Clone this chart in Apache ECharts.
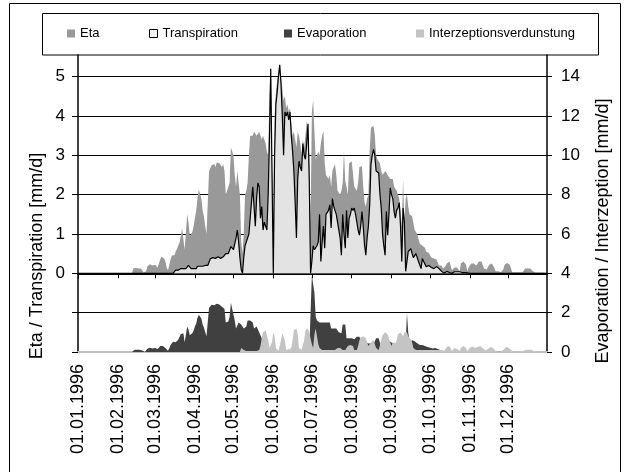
<!DOCTYPE html>
<html>
<head>
<meta charset="utf-8">
<script src="https://cdn.jsdelivr.net/npm/echarts@6/dist/echarts.min.js"></script>
<style>
  html, body { margin: 0; padding: 0; background: #fff; }
  #main { width: 629px; height: 472px; }
</style>
</head>
<body>
<div id="main"></div>
<script>
// Tageswerte 1996 (366 Tage)
var monthStarts = [0, 31, 60, 91, 121, 152, 182, 213, 244, 274, 305, 335];
var leftTicks = [0, 1, 2, 3, 4, 5];
var rightTicks = [0, 2, 4, 6, 8, 10, 12, 14];

var eta = [
    // Jan
    0,0,0,0,0,0,0,0,0,0,0,0,0,0,0,0,0,0,0,0,0,0,0,0,0,0,0,0,0,0,0,
    // Feb
    0,0,0,0,0,0,0,0,0,0,0,0,0.12,0.13,0.14,0.13,0.12,0.13,0.12,0.1,0.02,0,0.05,0.18,0.22,0.23,0.21,0.2,0.24,
    // Mar
    0.22,0.18,0.15,0.25,0.35,0.42,0.46,0.38,0.3,0.15,0.08,0.2,0.35,0.45,0.5,0.46,0.55,0.62,0.7,0.78,0.95,1.15,1.1,0.6,0.55,1.5,1.3,0.95,0.9,1.05,1.2,
    // Apr
    1.4,1.6,1.9,2.13,2.1,1.9,1.6,1.45,1.2,1.0,0.97,2.6,2.65,2.75,2.8,2.78,2.7,2.82,2.85,2.8,2.75,2.7,2.78,2.6,2.0,2.1,2.05,2.3,3.2,3.22,
    // May
    3.0,2.5,2.2,2.6,2.65,2.0,0.8,0.5,1.0,2.0,2.1,2.3,3.0,3.5,3.55,3.5,3.6,3.65,3.5,3.55,3.6,3.5,3.4,3.5,3.4,3.3,3.1,3.0,4.5,5.25,3.0,
    // Jun
    1.2,4.0,4.6,4.9,5.1,5.3,5.0,4.7,4.4,4.5,4.2,4.3,4.1,4.2,3.8,3.5,3.6,3.4,3.2,3.6,3.5,3.3,3.0,3.4,3.2,3.5,3.9,3.9,3.0,1.3,
    // Jul
    4.1,4.4,3.6,2.9,3.0,3.1,3.0,3.3,3.5,3.62,2.8,2.5,2.45,2.4,2.5,2.2,2.6,2.7,2.77,2.5,2.1,2.05,2.0,2.1,2.3,3.1,2.35,2.2,2.0,2.8,2.85,
    // Aug
    2.85,2.8,2.2,2.15,2.1,2.3,2.7,2.75,2.72,2.2,1.8,1.7,1.9,2.0,3.1,3.7,3.75,3.75,3.5,3.0,2.9,2.85,2.8,2.6,2.5,2.55,2.6,2.64,2.5,2.45,2.4,
    // Sep
    2.35,2.4,2.2,2.15,2.1,2.0,1.9,1.6,1.2,2.4,1.3,1.9,2.0,1.7,1.5,1.5,1.45,1.4,1.1,1.05,1.0,1.0,0.75,0.7,0.7,0.68,0.65,0.55,0.55,0.52,
    // Oct
    0.5,0.4,0.38,0.38,0.36,0.35,0.3,0.2,0.2,0.2,0.12,0.08,0.18,0.25,0.3,0.3,0.2,0.08,0.05,0.15,0.18,0.15,0.12,0.05,0.25,0.3,0.3,0.3,0.22,0.05,0.15,
    // Nov
    0.2,0.25,0.28,0.25,0.25,0.2,0.25,0.3,0.32,0.3,0.25,0.12,0.1,0.1,0.15,0.22,0.25,0.25,0.22,0.15,0.05,0.05,0.05,0.05,0.03,0.05,0.1,0.22,0.26,0.26,
    // Dec
    0.25,0.22,0.12,0.03,0.03,0.03,0.03,0.03,0.03,0.03,0.03,0.03,0.08,0.12,0.12,0.12,0.12,0.12,0.08,0.05,0.02,0.02,0.02,0.02,0.02,0.02,0.02,0.02,0.02,0.02,0.02
];

var transpiration = [
    // Jan
    0,0,0,0,0,0,0,0,0,0,0,0,0,0,0,0,0,0,0,0,0,0,0,0,0,0,0,0,0,0,0,
    // Feb
    0,0,0,0,0,0,0,0,0,0,0,0,0,0,0,0,0,0,0,0,0,0,0,0,0,0,0,0,0,
    // Mar
    0,0,0,0,0,0,0,0,0,0,0,0,0,0,0,0.05,0.08,0.08,0.08,0.1,0.12,0.12,0.12,0.12,0.12,0.12,0.2,0.2,0.12,0.12,0.12,
    // Apr
    0.12,0.12,0.18,0.18,0.18,0.18,0.18,0.15,0.2,0.2,0.2,0.22,0.37,0.38,0.4,0.4,0.38,0.4,0.42,0.4,0.38,0.4,0.42,0.38,0.5,0.48,0.5,0.55,0.68,0.67,
    // May
    0.6,0.55,0.9,1.1,0.8,0.4,0.1,0.0,0.4,0.7,0.8,0.75,1.0,1.4,1.8,2.2,1.7,1.2,1.9,2.3,2.2,1.4,1.7,1.1,1.3,1.2,1.1,2.0,3.4,5.2,2.5,
    // Jun
    0.0,3.0,4.3,4.6,5.0,5.3,4.8,4.0,3.0,4.1,4.0,4.1,3.9,4.1,3.5,3.1,2.6,1.8,0.9,2.4,2.85,2.7,2.6,3.3,3.0,2.9,3.3,3.8,2.3,0.0,
    // Jul
    0.3,0.7,0.6,0.65,0.7,0.8,1.5,0.3,0.8,1.2,0.64,1.5,1.55,1.6,1.74,1.15,1.9,1.7,1.6,1.5,1.3,1.1,0.9,0.46,1.5,1.0,0.64,1.6,0.9,1.4,1.5,
    // Aug
    1.66,1.6,1.66,1.5,1.3,1.1,0.97,1.2,1.57,1.2,0.72,0.46,0.9,1.2,1.74,2.77,3.0,3.15,3.0,2.6,2.6,2.55,2.0,1.66,1.0,0.7,0.46,1.57,0.97,1.5,2.17,
    // Sep
    2.0,1.9,1.57,1.4,1.6,1.66,1.8,1.2,0.3,1.66,1.3,0.05,0.1,0.55,0.5,0.63,0.5,0.4,0.38,0.5,0.5,0.3,0.25,0.12,0.38,0.3,0.25,0.17,0.2,0.2,
    // Oct
    0.22,0.15,0.12,0.12,0.15,0.17,0.12,0.12,0.1,0.05,0.02,0,0,0.05,0.03,0.02,0.05,0,0,0.04,0.02,0.04,0.02,0.04,0.04,0.02,0.01,0.02,0,0.01,0,
    // Nov
    0,0,0,0,0,0,0,0,0,0,0,0,0,0,0,0,0,0,0,0,0,0,0,0,0,0,0,0,0,0,
    // Dec
    0,0,0,0,0,0,0,0,0,0,0,0,0,0,0,0,0,0,0,0,0,0,0,0,0,0,0,0,0,0,0
];

var evaporation = [
    // Jan
    0,0,0,0,0,0,0,0,0,0,0,0,0,0,0,0,0,0,0,0,0,0,0,0,0,0,0,0,0,0,0,
    // Feb
    0,0,0,0,0,0,0,0,0,0,0,0,0.1,0.11,0.12,0.11,0.1,0.11,0.1,0.08,0.02,0,0.04,0.16,0.2,0.21,0.19,0.18,0.22,
    // Mar
    0.2,0.16,0.15,0.25,0.3,0.26,0.3,0.25,0.2,0.12,0.06,0.18,0.35,0.45,0.52,0.5,0.5,0.55,0.62,0.68,0.9,1.0,0.95,0.5,0.5,1.3,1.15,0.85,0.8,0.95,1.1,
    // Apr
    1.3,1.45,1.74,1.9,1.9,1.7,1.4,1.25,1.0,0.8,0.78,2.25,2.3,2.4,2.4,2.38,2.3,2.45,2.48,2.42,2.35,2.3,2.4,2.2,1.5,1.6,1.55,1.8,2.5,2.5,
    // May
    1.9,1.6,1.2,1.3,1.5,1.5,1.4,1.3,1.2,1.2,1.3,1.6,1.65,1.6,1.55,1.5,1.2,1.1,1.3,1.2,1.0,0.9,0.7,0.5,0.4,0.35,0.3,0.25,0.15,0.05,0.1,
    // Jun
    0.2,0.15,0.1,0.08,0.05,0.05,0.1,0.15,0.2,0.15,0.1,0.17,0.12,0.1,0.1,0.15,0.2,0.2,0.25,0.2,0.15,0.1,0.1,0.15,0.2,0.25,0.2,0.15,0.1,0.1,
    // Jul
    3.9,4.0,3.0,1.8,1.6,1.55,1.5,1.55,1.5,1.6,1.5,1.55,1.5,1.45,1.5,1.2,1.25,1.2,1.15,1.2,1.2,1.0,0.95,0.95,1.4,1.45,1.4,0.7,0.75,0.7,0.7,
    // Aug
    0.7,0.7,0.65,0.6,0.78,0.8,0.78,0.6,0.52,0.52,0.5,0.5,0.45,0.43,0.43,0.45,0.43,0.4,0.43,0.7,0.7,0.7,0.68,0.26,0.26,0.26,0.26,0.35,0.52,0.52,0.52,
    // Sep
    0.5,0.45,0.35,0.35,0.35,0.35,0.3,0.25,0.2,0.3,0.3,0.4,2.0,1.0,0.5,0.55,0.6,0.6,0.55,0.5,0.45,0.4,0.35,0.35,0.35,0.3,0.3,0.28,0.26,0.25,
    // Oct
    0.22,0.2,0.18,0.17,0.2,0.18,0.15,0.12,0.1,0.05,0.03,0.03,0.03,0.03,0.03,0.03,0.03,0.03,0.03,0.03,0.03,0.03,0.03,0.03,0.03,0.03,0.03,0.03,0.03,0.03,0.03,
    // Nov
    0.02,0.02,0.02,0.02,0.02,0.02,0.02,0.02,0.02,0.02,0.02,0.02,0.02,0.02,0.02,0.02,0.02,0.02,0.02,0.02,0.02,0.02,0.02,0.02,0.02,0.02,0.02,0.02,0.02,0.02,
    // Dec
    0,0,0,0,0,0,0,0,0,0,0,0,0,0,0,0,0,0,0,0,0,0,0,0,0,0,0,0,0,0,0
];

var interzeption = [
    // Jan
    0,0,0,0,0,0,0,0,0,0,0,0,0,0,0,0,0,0,0,0,0,0,0,0,0,0,0,0,0,0,0,
    // Feb
    0,0,0,0,0,0,0,0,0,0,0,0,0,0,0,0,0,0,0,0,0,0,0,0,0,0,0,0,0,
    // Mar
    0,0,0,0,0,0,0,0,0,0,0,0,0,0,0,0,0,0,0,0,0,0,0,0,0,0,0,0,0,0,0,
    // Apr
    0,0,0,0,0,0,0,0,0,0,0,0,0,0,0,0,0,0,0,0,0,0,0,0,0,0,0,0,0,0,
    // May
    0,0,0,0,0,0,0.2,0.3,0.1,0.05,0.05,0.05,0.05,0.05,0.05,0.05,0.05,0.05,0.05,0.05,0.1,0.3,0.7,1.0,1.1,1.1,1.0,0.6,0.2,0.1,0.5,
    // Jun
    1.0,0.8,0.2,0.1,0.05,0.05,0.6,0.95,0.9,0.6,0.1,0.05,0.1,0.1,0.2,0.6,1.1,1.2,1.2,0.9,0.2,0.1,0.1,0.2,0.6,1.1,1.2,1.2,1.0,1.1,
    // Jul
    0.4,0.2,0.9,1.2,1.1,0.4,0.2,0.1,0.1,0.1,0.1,0.1,0.1,0.1,0.1,0.1,0.1,0.1,0.1,0.1,0.2,0.25,0.2,0.1,0.1,0.1,0.1,0.1,0.3,0.35,0.35,
    // Aug
    0.35,0.3,0.1,0.1,0.1,0.3,0.6,0.75,0.8,0.8,0.75,0.7,0.6,0.3,0.2,0.5,0.6,0.6,0.55,0.2,0.1,0.1,0.1,0.6,0.85,0.95,1.0,1.0,0.9,0.8,0.5,
    // Sep
    0.3,0.5,0.5,0.45,0.6,0.9,1.0,1.0,0.9,0.8,1.0,1.1,1.0,0.8,0.7,0.65,0.5,0.2,0.1,0.1,0.1,0.1,0.1,0.1,0.1,0.1,0.1,0.1,0.1,0.1,
    // Oct
    0.1,0.1,0.1,0.1,0.1,0.1,0.1,0.1,0.1,0.1,0.05,0.05,0.15,0.25,0.3,0.3,0.2,0.05,0.1,0.2,0.25,0.15,0.1,0.05,0.2,0.3,0.3,0.28,0.2,0.05,0.15,
    // Nov
    0.22,0.28,0.28,0.25,0.2,0.22,0.25,0.3,0.3,0.28,0.2,0.1,0.08,0.1,0.15,0.2,0.25,0.22,0.2,0.12,0.05,0.04,0.04,0.04,0.04,0.04,0.1,0.2,0.25,0.25,
    // Dec
    0.22,0.2,0.1,0.03,0.03,0.03,0.03,0.03,0.03,0.03,0.03,0.03,0.08,0.12,0.12,0.12,0.12,0.12,0.12,0.08,0.02,0.02,0.02,0.02,0.02,0.02,0.02,0.02,0.02,0.02,0.02
];

// Datumsachse 01.01.1996 - 31.12.1996
var days = [];
for (var i = 0; i < 366; i++) {
    var d = new Date(Date.UTC(1996, 0, 1 + i));
    var dd = ('0' + d.getUTCDate()).slice(-2);
    var mm = ('0' + (d.getUTCMonth() + 1)).slice(-2);
    days.push(dd + '.' + mm + '.' + d.getUTCFullYear());
}

var FONT = 'Liberation Sans, Arial, sans-serif';
var isMonthStart = function (index) { return monthStarts.indexOf(index) >= 0; };

var myChart = echarts.init(document.getElementById('main'));
var option = {
    animation: false,
    backgroundColor: '#fff',
    textStyle: { fontFamily: FONT },
    grid: [
        { left: 78, top: 55, width: 469, height: 297 },
        { left: 78, top: 55, width: 469, height: 297 }
    ],
    legend: [
        { left: 67, top: 27, padding: 0, itemWidth: 8, itemHeight: 8, selectedMode: false,
          textStyle: { fontSize: 13, color: '#000', fontFamily: FONT },
          data: [{ name: 'Eta', icon: 'rect', itemStyle: { color: '#999999' } }] },
        { left: 149, top: 27, padding: 0, itemWidth: 8, itemHeight: 8, selectedMode: false,
          textStyle: { fontSize: 13, color: '#000', fontFamily: FONT },
          data: [{ name: 'Transpiration', icon: 'rect', itemStyle: { color: '#f2f2f2', borderColor: '#000', borderWidth: 1 } }] },
        { left: 284, top: 27, padding: 0, itemWidth: 8, itemHeight: 8, selectedMode: false,
          textStyle: { fontSize: 13, color: '#000', fontFamily: FONT },
          data: [{ name: 'Evaporation', icon: 'rect', itemStyle: { color: '#404040' } }] },
        { left: 416, top: 27, padding: 0, itemWidth: 8, itemHeight: 8, selectedMode: false,
          textStyle: { fontSize: 13, color: '#000', fontFamily: FONT },
          data: [{ name: 'Interzeptionsverdunstung', icon: 'rect', itemStyle: { color: '#c4c4c4' } }] }
    ],
    xAxis: [
        {
            gridIndex: 0, type: 'category', data: days, boundaryGap: false,
            axisLine: { onZero: true, lineStyle: { color: '#000', width: 2 } },
            axisTick: { show: true, interval: isMonthStart, length: 5, lineStyle: { color: '#000' } },
            axisLabel: { show: false },
            splitLine: { show: false }
        },
        {
            gridIndex: 1, type: 'category', data: days, boundaryGap: false, position: 'bottom',
            axisLine: { onZero: false, lineStyle: { color: '#c0c0c0', width: 2 } },
            axisTick: { show: false },
            axisLabel: { interval: isMonthStart, rotate: 90, fontSize: 18, color: '#000', margin: 12, fontFamily: FONT },
            splitLine: { show: false }
        }
    ],
    yAxis: [
        {
            gridIndex: 0, type: 'value', position: 'left', min: -2, max: 5.55, interval: 1,
            axisLine: { show: true, lineStyle: { color: '#000', width: 1.5 } },
            axisTick: { show: true, length: 6, customValues: [-2, -1, 0, 1, 2, 3, 4, 5], lineStyle: { color: '#000' } },
            axisLabel: { customValues: leftTicks, fontSize: 17, color: '#000', margin: 13, fontFamily: FONT },
            splitLine: { show: true, lineStyle: { color: '#000', width: 1 } }
        },
        {
            gridIndex: 0, type: 'value', position: 'right', min: 0, max: 15.1, interval: 2,
            axisLine: { show: true, lineStyle: { color: '#000', width: 1.5 } },
            axisTick: { show: true, length: 5, customValues: rightTicks, lineStyle: { color: '#000' } },
            axisLabel: { customValues: rightTicks, fontSize: 17, color: '#000', margin: 14, fontFamily: FONT },
            splitLine: { show: false }
        },
        {
            gridIndex: 1, type: 'value', min: -2, max: 5.55, show: false
        }
    ],
    series: [
        {
            name: 'Eta', type: 'line', xAxisIndex: 0, yAxisIndex: 0, data: eta,
            showSymbol: false, symbol: 'none',
            itemStyle: { color: '#999999' },
            lineStyle: { width: 0, color: '#999999' },
            areaStyle: { color: '#999999', opacity: 1 }
        },
        {
            name: 'Transpiration', type: 'line', xAxisIndex: 0, yAxisIndex: 0, data: transpiration,
            showSymbol: false, symbol: 'none',
            itemStyle: { color: '#f2f2f2' },
            lineStyle: { width: 1.2, color: '#000' },
            areaStyle: { color: '#e3e3e3', opacity: 1 }
        },
        {
            name: 'Evaporation', type: 'line', xAxisIndex: 0, yAxisIndex: 1, data: evaporation,
            showSymbol: false, symbol: 'none',
            itemStyle: { color: '#404040' },
            lineStyle: { width: 0, color: '#404040' },
            areaStyle: { color: '#404040', opacity: 1 }
        },
        {
            name: 'Interzeptionsverdunstung', type: 'line', xAxisIndex: 0, yAxisIndex: 1, data: interzeption,
            showSymbol: false, symbol: 'none',
            itemStyle: { color: '#c4c4c4' },
            lineStyle: { width: 0, color: '#c4c4c4' },
            areaStyle: { color: '#c4c4c4', opacity: 1 }
        }
    ],
    graphic: [
        { type: 'rect', silent: true, z: -1,
          shape: { x: 9.5, y: 3.5, width: 611, height: 475 },
          style: { fill: 'none', stroke: '#000', lineWidth: 1 } },
        { type: 'rect', silent: true,
          shape: { x: 42.5, y: 13.5, width: 556, height: 41.5 },
          style: { fill: 'none', stroke: '#000', lineWidth: 1 } },
        { type: 'text', silent: true, x: 37, y: 256, rotation: Math.PI / 2,
          style: { text: 'Eta / Transpiration [mm/d]', font: '18px ' + FONT, fill: '#000',
                   textAlign: 'center', textVerticalAlign: 'middle' } },
        { type: 'text', silent: true, x: 603, y: 231, rotation: Math.PI / 2,
          style: { text: 'Evaporation / Interzeption [mm/d]', font: '18px ' + FONT, fill: '#000',
                   textAlign: 'center', textVerticalAlign: 'middle' } }
    ]
};
myChart.setOption(option);
</script>
</body>
</html>
